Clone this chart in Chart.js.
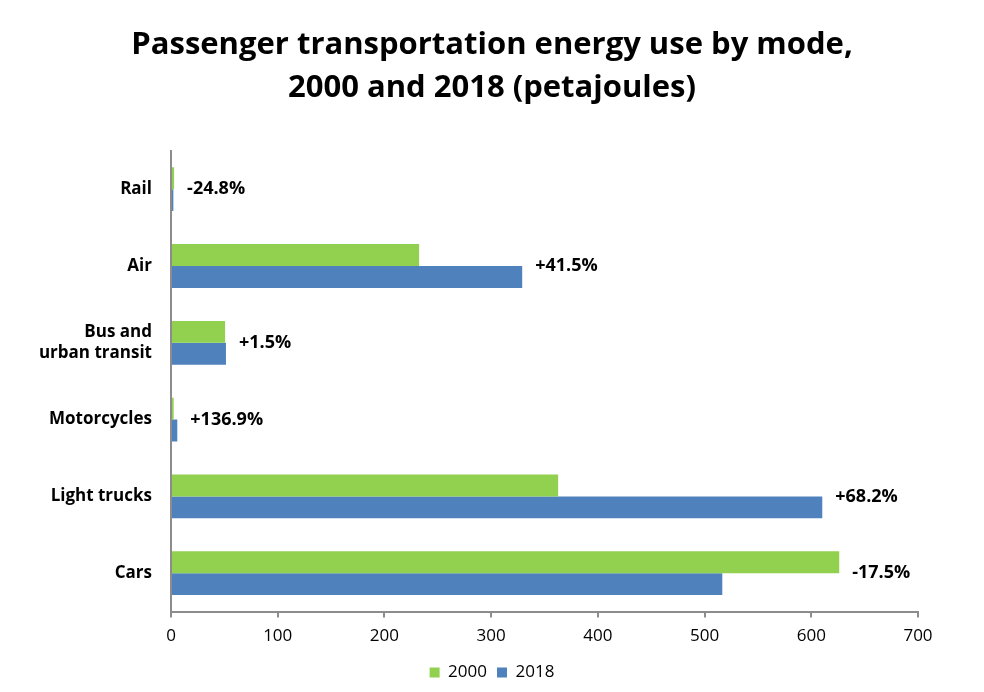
<!DOCTYPE html>
<html>
<head>
<meta charset="utf-8">
<script src="https://cdn.jsdelivr.net/npm/chart.js@4"></script>
<style>
  body { margin: 0; background: #fff; }
</style>
</head>
<body>
<canvas id="myChart" width="984" height="692"></canvas>
<script>
const categories = ['Rail', 'Air', ['Bus and', 'urban transit'], 'Motorcycles', 'Light trucks', 'Cars'];
const values2000 = [2.9, 232.5, 50.7, 2.5, 362.8, 626.2];
const values2018 = [2.2, 329.1, 51.5, 5.9, 610.3, 516.6];
const changeLabels = ['-24.8%', '+41.5%', '+1.5%', '+136.9%', '+68.2%', '-17.5%'];
const seriesNames = ['2000', '2018'];

const green = '#92D050';
const blue = '#4F81BD';
const axisGray = '#8C8C8C';
const fontFamily = "'Open Sans', 'Liberation Sans', sans-serif";

// draws the % change text to the right of the longer bar in each pair
const changeLabelPlugin = {
  id: 'changeLabels',
  afterDatasetsDraw(chart) {
    const ctx = chart.ctx;
    const xScale = chart.scales.x;
    const yScale = chart.scales.y;
    ctx.save();
    ctx.font = 'bold 18px ' + fontFamily;
    ctx.fillStyle = '#000';
    ctx.textBaseline = 'middle';
    ctx.textAlign = 'left';
    changeLabels.forEach((txt, i) => {
      const maxVal = Math.max(values2000[i], values2018[i]);
      const x = xScale.getPixelForValue(maxVal) + 13;
      const y = yScale.getPixelForValue(i);
      ctx.fillText(txt, x, y);
    });
    ctx.restore();
  }
};

const ctx = document.getElementById('myChart');

new Chart(ctx, {
  type: 'bar',
  data: {
    labels: categories,
    datasets: [
      {
        label: seriesNames[0],
        data: values2000,
        backgroundColor: green,
        borderWidth: 0,
        categoryPercentage: 0.57,
        barPercentage: 1.0,
      },
      {
        label: seriesNames[1],
        data: values2018,
        backgroundColor: blue,
        borderWidth: 0,
        categoryPercentage: 0.57,
        barPercentage: 1.0,
      },
    ],
  },
  options: {
    indexAxis: 'y',
    responsive: false,
    animation: false,
    layout: {
      padding: { left: 20, right: 20, top: 10, bottom: 1 },
    },
    plugins: {
      title: {
        display: true,
        text: ['Passenger transportation energy use by mode,', '2000 and 2018 (petajoules)'],
        color: '#000',
        font: { family: fontFamily, size: 31, weight: 'bold', lineHeight: 1.4 },
        padding: { top: 13, bottom: 41 },
      },
      legend: {
        position: 'bottom',
        labels: {
          color: '#000',
          font: { family: fontFamily, size: 17 },
          boxWidth: 10,
          boxHeight: 10,
          padding: 10,
        },
      },
      tooltip: { enabled: false },
    },
    scales: {
      x: {
        min: 0,
        max: 700,
        ticks: {
          stepSize: 100,
          color: '#000',
          font: { family: fontFamily, size: 17 },
          padding: 8,
        },
        grid: {
          drawOnChartArea: false,
          drawTicks: true,
          tickLength: 6,
          color: axisGray,
          lineWidth: 2,
        },
        border: { color: axisGray, width: 2 },
      },
      y: {
        ticks: {
          color: '#000',
          font: { family: fontFamily, size: 17, weight: 'bold' },
          padding: 19,
        },
        grid: { display: false, drawTicks: false },
        border: { color: axisGray, width: 2 },
        afterFit: (scale) => { scale.width = 151; },
      },
      // empty right-hand axis, only reserves space so the title stays centred on the page
      yRight: {
        position: 'right',
        display: true,
        ticks: { display: false },
        grid: { display: false, drawTicks: false },
        border: { display: false },
        afterFit: (scale) => { scale.width = 46; },
      },
    },
  },
  plugins: [changeLabelPlugin],
});
</script>
</body>
</html>
